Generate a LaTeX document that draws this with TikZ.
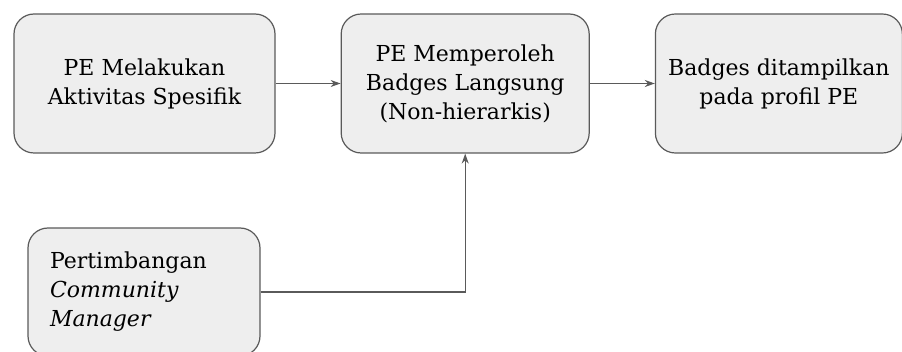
\documentclass[tikz,border=0pt]{standalone}
\usepackage{fontspec}
\setmainfont{DejaVu Serif}
\usetikzlibrary{positioning, arrows.meta}

\definecolor{boxfill}{HTML}{EEEEEE}
\definecolor{boxline}{HTML}{5A5A5A}

\begin{document}
\begin{tikzpicture}[
    node distance=1.5cm and 32.5pt,
    stage/.style={draw=boxline, fill=boxfill, rectangle, rounded corners=10pt,
      line width=0.6pt, minimum height=69.5pt, align=center,
      font=\fontsize{11}{14.5}\selectfont},
    input/.style={stage, minimum height=64pt, align=left, text width=94pt},
    >={Stealth[length=5pt, width=3.5pt]}
]
  \useasboundingbox (0,0) rectangle (451pt,-176pt);
  \begin{scope}
  \clip (0,0) rectangle (451pt,-176pt);
  \node[stage, minimum width=130.5pt] (act) at (72.25pt,-41.75pt)
    {PE Melakukan\\Aktivitas Spesifik};
  \node[stage, minimum width=124pt, right=of act] (get)
    {PE Memperoleh\\Badges Langsung\\(Non-hierarkis)};
  \node[stage, minimum width=123.5pt, right=of get] (show)
    {Badges ditampilkan\\pada profil PE};
  \node[input, minimum width=116pt] (cm) at (72pt,-146pt)
    {Pertimbangan\\\textit{Community}\\\textit{Manager}};

  \draw[->, boxline, line width=0.6pt] (act) -- (get);
  \draw[->, boxline, line width=0.6pt] (get) -- (show);
  \draw[->, boxline, line width=0.6pt] (cm.east) -| (get.south);
  \end{scope}
\end{tikzpicture}
\end{document}
